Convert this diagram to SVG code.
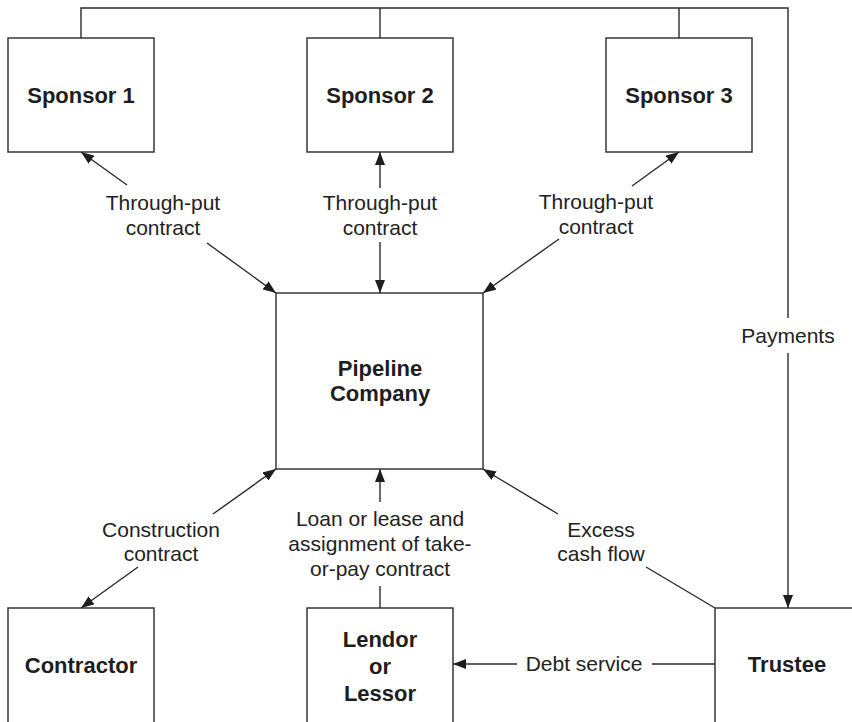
<svg xmlns="http://www.w3.org/2000/svg" width="852" height="722" viewBox="0 0 852 722">
<style>
.box{fill:#fff;stroke:#2a2a2a;stroke-width:1.4}
.ln{fill:none;stroke:#2a2a2a;stroke-width:1.4}
.nt{font-family:"Liberation Sans",Arial,sans-serif;font-size:22px;font-weight:bold;fill:#1e1e1e;text-anchor:middle}
.lb{font-family:"Liberation Sans",Arial,sans-serif;font-size:21px;fill:#222;text-anchor:middle}
</style>
<defs>
<marker id="ah" viewBox="0 0 13 10" markerWidth="13" markerHeight="10" refX="13" refY="5" orient="auto" markerUnits="userSpaceOnUse">
<path d="M0,0 L13,5 L0,10 z" fill="#1e1e1e"/>
</marker>
</defs>
<rect width="852" height="722" fill="#fff"/>
<g id="connectors">
<polyline class="ln" points="81,38 81,8 788,8 788,318"/>
<line class="ln" x1="380" y1="8" x2="380" y2="38"/>
<line class="ln" x1="679" y1="8" x2="679" y2="38"/>
<line class="ln" x1="788" y1="353" x2="788" y2="608" marker-end="url(#ah)"/>
<line class="ln" x1="127" y1="185" x2="81" y2="152" marker-end="url(#ah)"/>
<line class="ln" x1="207" y1="243" x2="276" y2="293" marker-end="url(#ah)"/>
<line class="ln" x1="380" y1="188" x2="380" y2="152" marker-end="url(#ah)"/>
<line class="ln" x1="380" y1="242" x2="380" y2="293" marker-end="url(#ah)"/>
<line class="ln" x1="632" y1="186" x2="679" y2="152" marker-end="url(#ah)"/>
<line class="ln" x1="559" y1="239" x2="483" y2="293" marker-end="url(#ah)"/>
<line class="ln" x1="213" y1="514" x2="276" y2="469" marker-end="url(#ah)"/>
<line class="ln" x1="138" y1="567" x2="81" y2="608" marker-end="url(#ah)"/>
<line class="ln" x1="380" y1="502" x2="380" y2="469" marker-end="url(#ah)"/>
<line class="ln" x1="380" y1="586" x2="380" y2="608"/>
<line class="ln" x1="558" y1="514" x2="483" y2="469" marker-end="url(#ah)"/>
<line class="ln" x1="646" y1="567" x2="715" y2="608"/>
<line class="ln" x1="517" y1="664" x2="453" y2="664" marker-end="url(#ah)"/>
<line class="ln" x1="652" y1="664" x2="715" y2="664"/>
<text class="lb" x="788" y="343">Payments</text>
<text class="lb" x="163" y="210">Through-put</text>
<text class="lb" x="163" y="235">contract</text>
<text class="lb" x="380" y="210">Through-put</text>
<text class="lb" x="380" y="235">contract</text>
<text class="lb" x="596" y="209">Through-put</text>
<text class="lb" x="596" y="234">contract</text>
<text class="lb" x="161" y="537">Construction</text>
<text class="lb" x="161" y="561">contract</text>
<text class="lb" x="380" y="526">Loan or lease and</text>
<text class="lb" x="380" y="551">assignment of take-</text>
<text class="lb" x="380" y="576">or-pay contract</text>
<text class="lb" x="601" y="537">Excess</text>
<text class="lb" x="601" y="561">cash flow</text>
<text class="lb" x="584" y="671">Debt service</text>
</g>
<g id="sponsor1"><rect class="box" x="8" y="38" width="146" height="114"/><text class="nt" x="81" y="103">Sponsor 1</text></g>
<g id="sponsor2"><rect class="box" x="307" y="38" width="146" height="114"/><text class="nt" x="380" y="103">Sponsor 2</text></g>
<g id="sponsor3"><rect class="box" x="606" y="38" width="146" height="114"/><text class="nt" x="679" y="103">Sponsor 3</text></g>
<g id="pipeline"><rect class="box" x="276" y="293" width="207" height="176"/><text class="nt" x="380" y="376">Pipeline</text><text class="nt" x="380" y="401">Company</text></g>
<g id="contractor"><rect class="box" x="8" y="608" width="146" height="130"/><text class="nt" x="81" y="673">Contractor</text></g>
<g id="lendor"><rect class="box" x="307" y="608" width="146" height="130"/><text class="nt" x="380" y="647">Lendor</text><text class="nt" x="380" y="674">or</text><text class="nt" x="380" y="701">Lessor</text></g>
<g id="trustee"><rect class="box" x="715" y="608" width="160" height="130"/><text class="nt" x="787" y="672">Trustee</text></g>
</svg>
